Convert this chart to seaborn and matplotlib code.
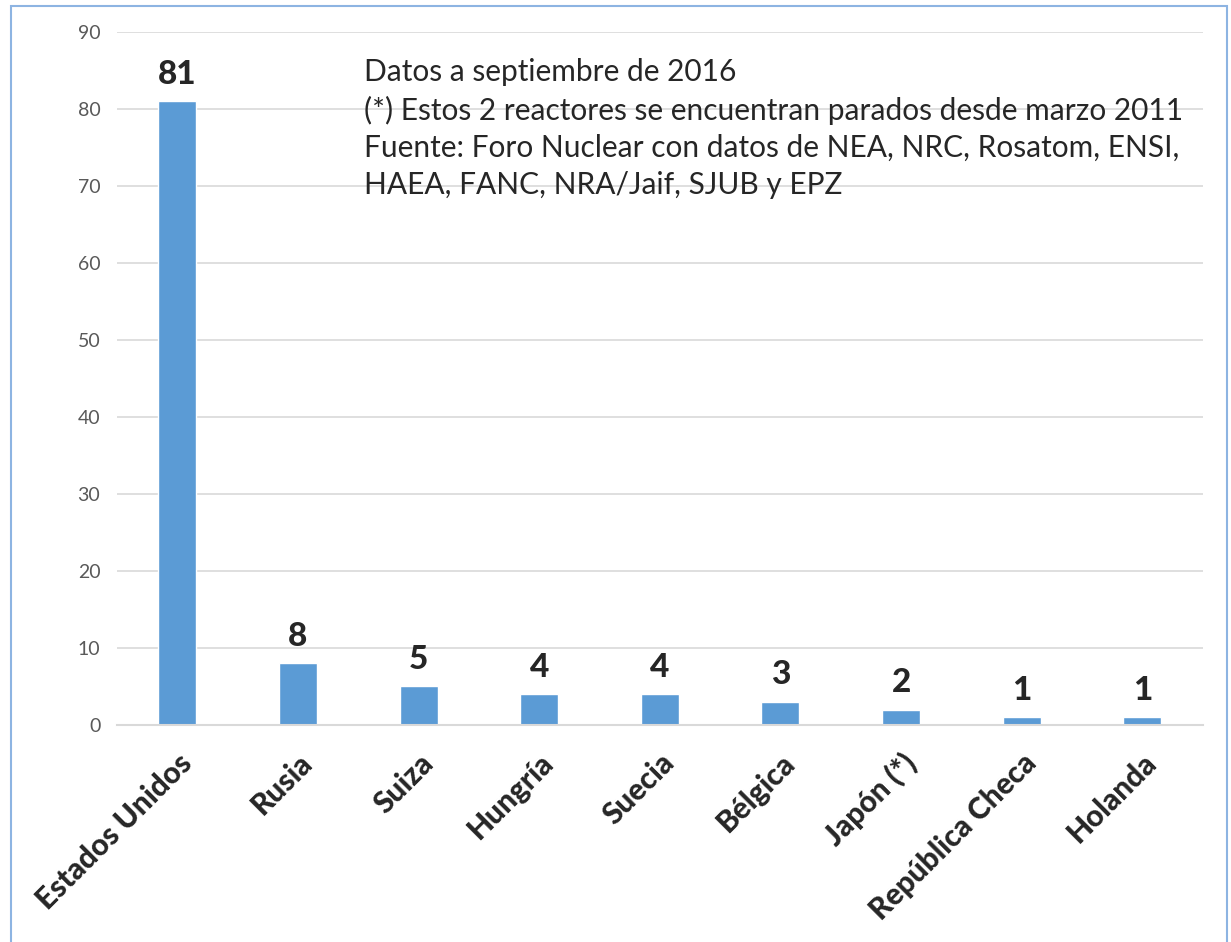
import matplotlib.pyplot as plt
import pandas as pd
import seaborn as sns

paises = ['Estados Unidos', 'Rusia', 'Suiza', 'Hungría', 'Suecia',
          'Bélgica', 'Japón (*)', 'República Checa', 'Holanda']
reactores = [81, 8, 5, 4, 4, 3, 2, 1, 1]
nota = ("Datos a septiembre de 2016\n"
        "(*) Estos 2 reactores se encuentran parados desde marzo 2011\n"
        "Fuente: Foro Nuclear con datos de NEA, NRC, Rosatom, ENSI,\n"
        "HAEA, FANC, NRA/Jaif, SJUB y EPZ")

data = pd.DataFrame({'pais': paises, 'reactores': reactores})

sns.set_style('white')
plt.rcParams['font.family'] = ['Lato', 'DejaVu Sans']

fig = plt.figure(figsize=(12.31, 9.42), dpi=100)
ax = fig.add_axes([0.095, 0.2304, 0.882, 0.7356])

sns.barplot(data=data, x='pais', y='reactores', color='#5B9BD5',
            width=0.315, saturation=1, ax=ax)

#bold value labels on top of the bars
for p, v in zip(ax.patches, reactores):
    ax.annotate(str(v), (p.get_x() + p.get_width() / 2, v),
                xytext=(0, 9), textcoords='offset points',
                ha='center', va='bottom', fontsize=24, fontweight='black')

ax.set_ylim(0, 90)
ax.set_xlim(-0.5, len(paises) - 0.5)
ax.set_yticks(range(0, 91, 10))
ax.yaxis.grid(True, color='#D9D9D9', linewidth=1.2)
ax.set_axisbelow(True)
for s in ['top', 'right', 'left']:
    ax.spines[s].set_visible(False)
ax.spines['bottom'].set_color('#D9D9D9')
ax.spines['bottom'].set_linewidth(1.5)

ax.set_xlabel('')
ax.set_ylabel('')
ax.tick_params(axis='y', labelsize=14, labelcolor='#595959', length=0, pad=12)
ax.tick_params(axis='x', length=0, pad=17)
plt.setp(ax.get_xticklabels(), rotation=45, ha='right', rotation_mode='anchor',
         fontsize=21.5, fontweight='black')

ax.text(1.55, 86.6, nota, fontsize=21.5, va='top', ha='left', linespacing=1.4)

#light blue frame around the chart
fig.patches.append(plt.Rectangle((0.009, -0.01), 0.988, 1.004,
                                 transform=fig.transFigure, fill=False,
                                 edgecolor='#8DB4E2', linewidth=1.5))

fig.savefig('out.png', dpi=100)
